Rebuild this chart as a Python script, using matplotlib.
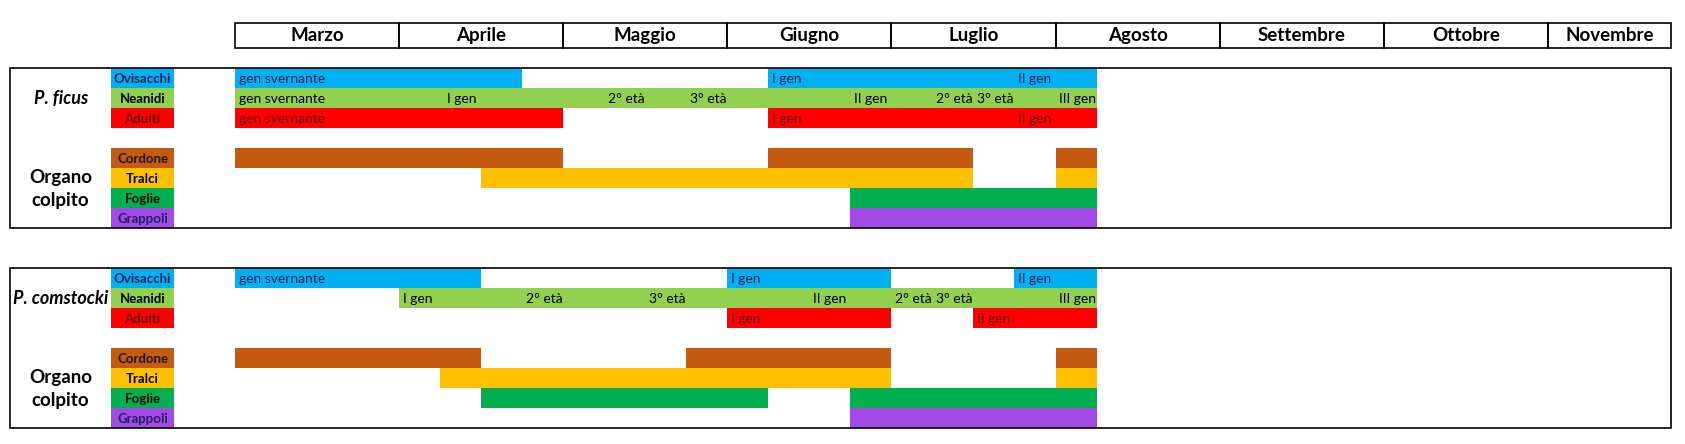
import matplotlib.pyplot as plt
from matplotlib.patches import Rectangle

plt.rcParams['font.family'] = ['Lato', 'DejaVu Sans']

# months of the calendar header (Novembre cell is shorter)
months = ['Marzo', 'Aprile', 'Maggio', 'Giugno', 'Luglio', 'Agosto',
          'Settembre', 'Ottobre', 'Novembre']
month_len = [1, 1, 1, 1, 1, 1, 1, 1, 0.75]

# row labels and colours
rows = ['Ovisacchi', 'Neanidi', 'Adulti', 'Cordone', 'Tralci', 'Foglie', 'Grappoli']
row_colors = ['#00B0F0', '#92D050', '#FF0000', '#C55A11', '#FFC000', '#00B050', '#A349E6']
row_text = ['#002060', '#000000', '#6A0000', '#1A1A1A', '#000000', '#0A0A0A', '#1F2060']

# periods in months from 1 March: (row, start, end)
ficus_bars = [
    ('Ovisacchi', 0, 1.75), ('Ovisacchi', 3.25, 5.25),
    ('Neanidi', 0, 5.25),
    ('Adulti', 0, 2.0), ('Adulti', 3.25, 5.25),
    ('Cordone', 0, 2.0), ('Cordone', 3.25, 4.5), ('Cordone', 5.0, 5.25),
    ('Tralci', 1.5, 4.5), ('Tralci', 5.0, 5.25),
    ('Foglie', 3.75, 5.25),
    ('Grappoli', 3.75, 5.25),
]
ficus_notes = [
    ('Ovisacchi', 0, 'gen svernante'), ('Ovisacchi', 3.25, 'I gen'), ('Ovisacchi', 4.75, 'II gen'),
    ('Neanidi', 0, 'gen svernante'), ('Neanidi', 1.27, 'I gen'), ('Neanidi', 2.25, '2° età'),
    ('Neanidi', 2.75, '3° età'), ('Neanidi', 3.75, 'II gen'), ('Neanidi', 4.25, '2° età'),
    ('Neanidi', 4.5, '3° età'), ('Neanidi', 5.0, 'III gen'),
    ('Adulti', 0, 'gen svernante'), ('Adulti', 3.25, 'I gen'), ('Adulti', 4.75, 'II gen'),
]

comstocki_bars = [
    ('Ovisacchi', 0, 1.5), ('Ovisacchi', 3.0, 4.0), ('Ovisacchi', 4.75, 5.25),
    ('Neanidi', 1.0, 5.25),
    ('Adulti', 3.0, 4.0), ('Adulti', 4.5, 5.25),
    ('Cordone', 0, 1.5), ('Cordone', 2.75, 4.0), ('Cordone', 5.0, 5.25),
    ('Tralci', 1.25, 4.0), ('Tralci', 5.0, 5.25),
    ('Foglie', 1.5, 3.25), ('Foglie', 3.75, 5.25),
    ('Grappoli', 3.75, 5.25),
]
comstocki_notes = [
    ('Ovisacchi', 0, 'gen svernante'), ('Ovisacchi', 3.0, 'I gen'), ('Ovisacchi', 4.75, 'II gen'),
    ('Neanidi', 1.0, 'I gen'), ('Neanidi', 1.75, '2° età'), ('Neanidi', 2.5, '3° età'),
    ('Neanidi', 3.5, 'II gen'), ('Neanidi', 4.0, '2° età'), ('Neanidi', 4.25, '3° età'),
    ('Neanidi', 5.0, 'III gen'),
    ('Adulti', 3.0, 'I gen'), ('Adulti', 4.5, 'II gen'),
]

species = ['P. ficus', 'P. comstocki']

# layout (x in months, y in row heights of 20 px)
px = 164.1
slot = {'Ovisacchi': 0, 'Neanidi': 1, 'Adulti': 2, 'Cordone': 4,
        'Tralci': 5, 'Foglie': 6, 'Grappoli': 7}
panel_top = [3.415, 13.415]
box_left = (10.3 - 235) / px
lab_left, lab_right = (111 - 235) / px, (174 - 235) / px
end_x = sum(month_len)

fig = plt.figure(figsize=(16.85, 4.44), dpi=100)
ax = fig.add_axes([0, 0, 1, 1])
ax.set_xlim(-235 / px, (1685 - 235) / px)
ax.set_ylim(22.2, 0)
ax.axis('off')

# month header
x = 0
for m, w in zip(months, month_len):
    ax.add_patch(Rectangle((x, 1.165), w, 1.25, fill=False, ec='black', lw=1.2))
    ax.text(x + w / 2, 1.79, m, ha='center', va='center', fontsize=13.5, fontweight='bold')
    x += w

def draw_panel(top, name, bars, notes):
    ax.add_patch(Rectangle((box_left, top), end_x - box_left, 8, fill=False, ec='black', lw=1.2, zorder=5))
    for r, c, tc in zip(rows, row_colors, row_text):
        y = top + slot[r]
        ax.add_patch(Rectangle((lab_left, y), lab_right - lab_left, 1, color=c, lw=0))
        ax.text((lab_left + lab_right) / 2, y + 0.52, r, ha='center', va='center',
                fontsize=9.5, fontweight='bold', color=tc)
    for r, a, b in bars:
        i = rows.index(r)
        ax.add_patch(Rectangle((a, top + slot[r]), b - a, 1, color=row_colors[i], lw=0))
    for r, a, t in notes:
        i = rows.index(r)
        ax.text(a + 0.022, top + slot[r] + 0.52, t, ha='left', va='center',
                fontsize=10, color=row_text[i])
    cx = box_left + (lab_left - box_left) / 2
    ax.text(cx, top + 1.5, name, ha='center', va='center',
            fontsize=13, fontweight='bold', style='italic')
    ax.text(cx, top + 5.45, 'Organo', ha='center', va='center',
            fontsize=13.5, fontweight='bold')
    ax.text(cx, top + 6.6, 'colpito', ha='center', va='center',
            fontsize=13.5, fontweight='bold')

draw_panel(panel_top[0], species[0], ficus_bars, ficus_notes)
draw_panel(panel_top[1], species[1], comstocki_bars, comstocki_notes)

fig.savefig('out.png', dpi=100)
